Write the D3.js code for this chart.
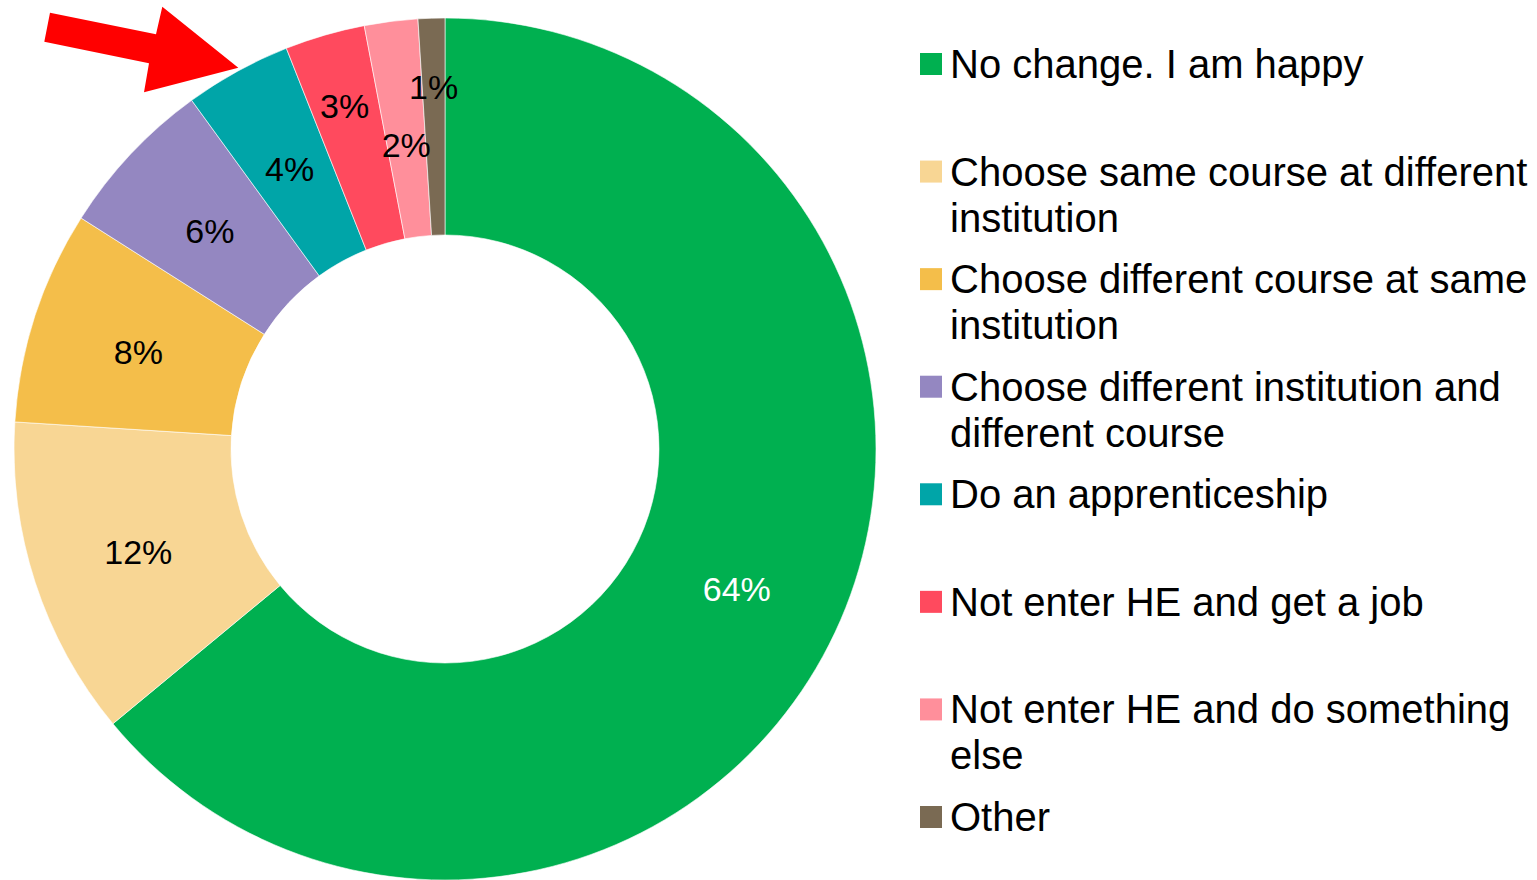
<!DOCTYPE html>
<html>
<head>
<meta charset="utf-8">
<script src="https://cdn.jsdelivr.net/npm/d3@7"></script>
<style>
  html, body { margin: 0; padding: 0; background: #fff; }
  svg { display: block; font-family: "Liberation Sans", Arial, sans-serif; }
</style>
</head>
<body>
<svg id="chart" width="1537" height="880"></svg>
<script>
// ---- data ----
const categories = [
  "No change. I am happy",
  "Choose same course at different institution",
  "Choose different course at same institution",
  "Choose different institution and different course",
  "Do an apprenticeship",
  "Not enter HE and get a job",
  "Not enter HE and do something else",
  "Other"
];
const legendLines = [
  ["No change. I am happy"],
  ["Choose same course at different", "institution"],
  ["Choose different course at same", "institution"],
  ["Choose different institution and", "different course"],
  ["Do an apprenticeship"],
  ["Not enter HE and get a job"],
  ["Not enter HE and do something", "else"],
  ["Other"]
];
const values = [64, 12, 8, 6, 4, 3, 2, 1];
const labels = ["64%", "12%", "8%", "6%", "4%", "3%", "2%", "1%"];

// ---- style ----
const colors = ["#00B050", "#F8D694", "#F4BE4A", "#9487C1", "#00A5A8", "#FF4A5E", "#FF8F9B", "#7A6A53"];
const labelColors = ["#ffffff", "#000", "#000", "#000", "#000", "#000", "#000", "#000"];
// label radius for the small slices that were nudged in the original
const labelRadiusOverride = {5: 360, 6: 309, 7: 365};

const svg = d3.select("#chart");
const cx = 445, cy = 449, R = 431, r0 = 214;

const pie = d3.pie().sort(null).value(d => d)(values);
const arc = d3.arc().innerRadius(r0).outerRadius(R);

const g = svg.append("g").attr("transform", `translate(${cx},${cy})`);
g.selectAll("path.slice").data(pie).join("path")
  .attr("class", "slice")
  .attr("d", arc)
  .attr("fill", (d, i) => colors[i])
  .attr("stroke", "#ffffff")
  .attr("stroke-width", 0.6);

g.selectAll("text.lbl").data(pie).join("text")
  .attr("class", "lbl")
  .attr("transform", (d, i) => {
    const rr = labelRadiusOverride[i];
    if (rr) {
      const a = (d.startAngle + d.endAngle) / 2;
      return `translate(${rr * Math.sin(a)},${-rr * Math.cos(a)})`;
    }
    const c = arc.centroid(d);
    return `translate(${c[0]},${c[1]})`;
  })
  .attr("text-anchor", "middle")
  .attr("dy", "0.44em")
  .attr("font-size", 34)
  .attr("fill", (d, i) => labelColors[i])
  .text((d, i) => labels[i]);

// ---- red arrow annotation ----
svg.append("path")
  .attr("d", "M50,12.7 L156,34.3 L162.3,6.7 L238.3,67.7 L144,92.3 L149,63.3 L44.3,41.7 Z")
  .attr("fill", "#FF0000");

// ---- legend ----
const legendY = d3.scalePoint().domain(d3.range(categories.length)).range([64, 817]);
const lg = svg.append("g");
const items = lg.selectAll("g.item").data(categories).join("g")
  .attr("class", "item")
  .attr("transform", (d, i) => `translate(920,${legendY(i)})`);
items.append("rect")
  .attr("x", 0).attr("y", -11).attr("width", 22).attr("height", 22)
  .attr("fill", (d, i) => colors[i]);
items.each(function(d, i) {
  const t = d3.select(this).append("text")
    .attr("x", 30).attr("y", 0)
    .attr("font-size", 40)
    .attr("fill", "#000");
  legendLines[i].forEach((ln, j) => {
    t.append("tspan").attr("x", 30).attr("y", j * 46).attr("dy", "0.35em").text(ln);
  });
});
</script>
</body>
</html>
